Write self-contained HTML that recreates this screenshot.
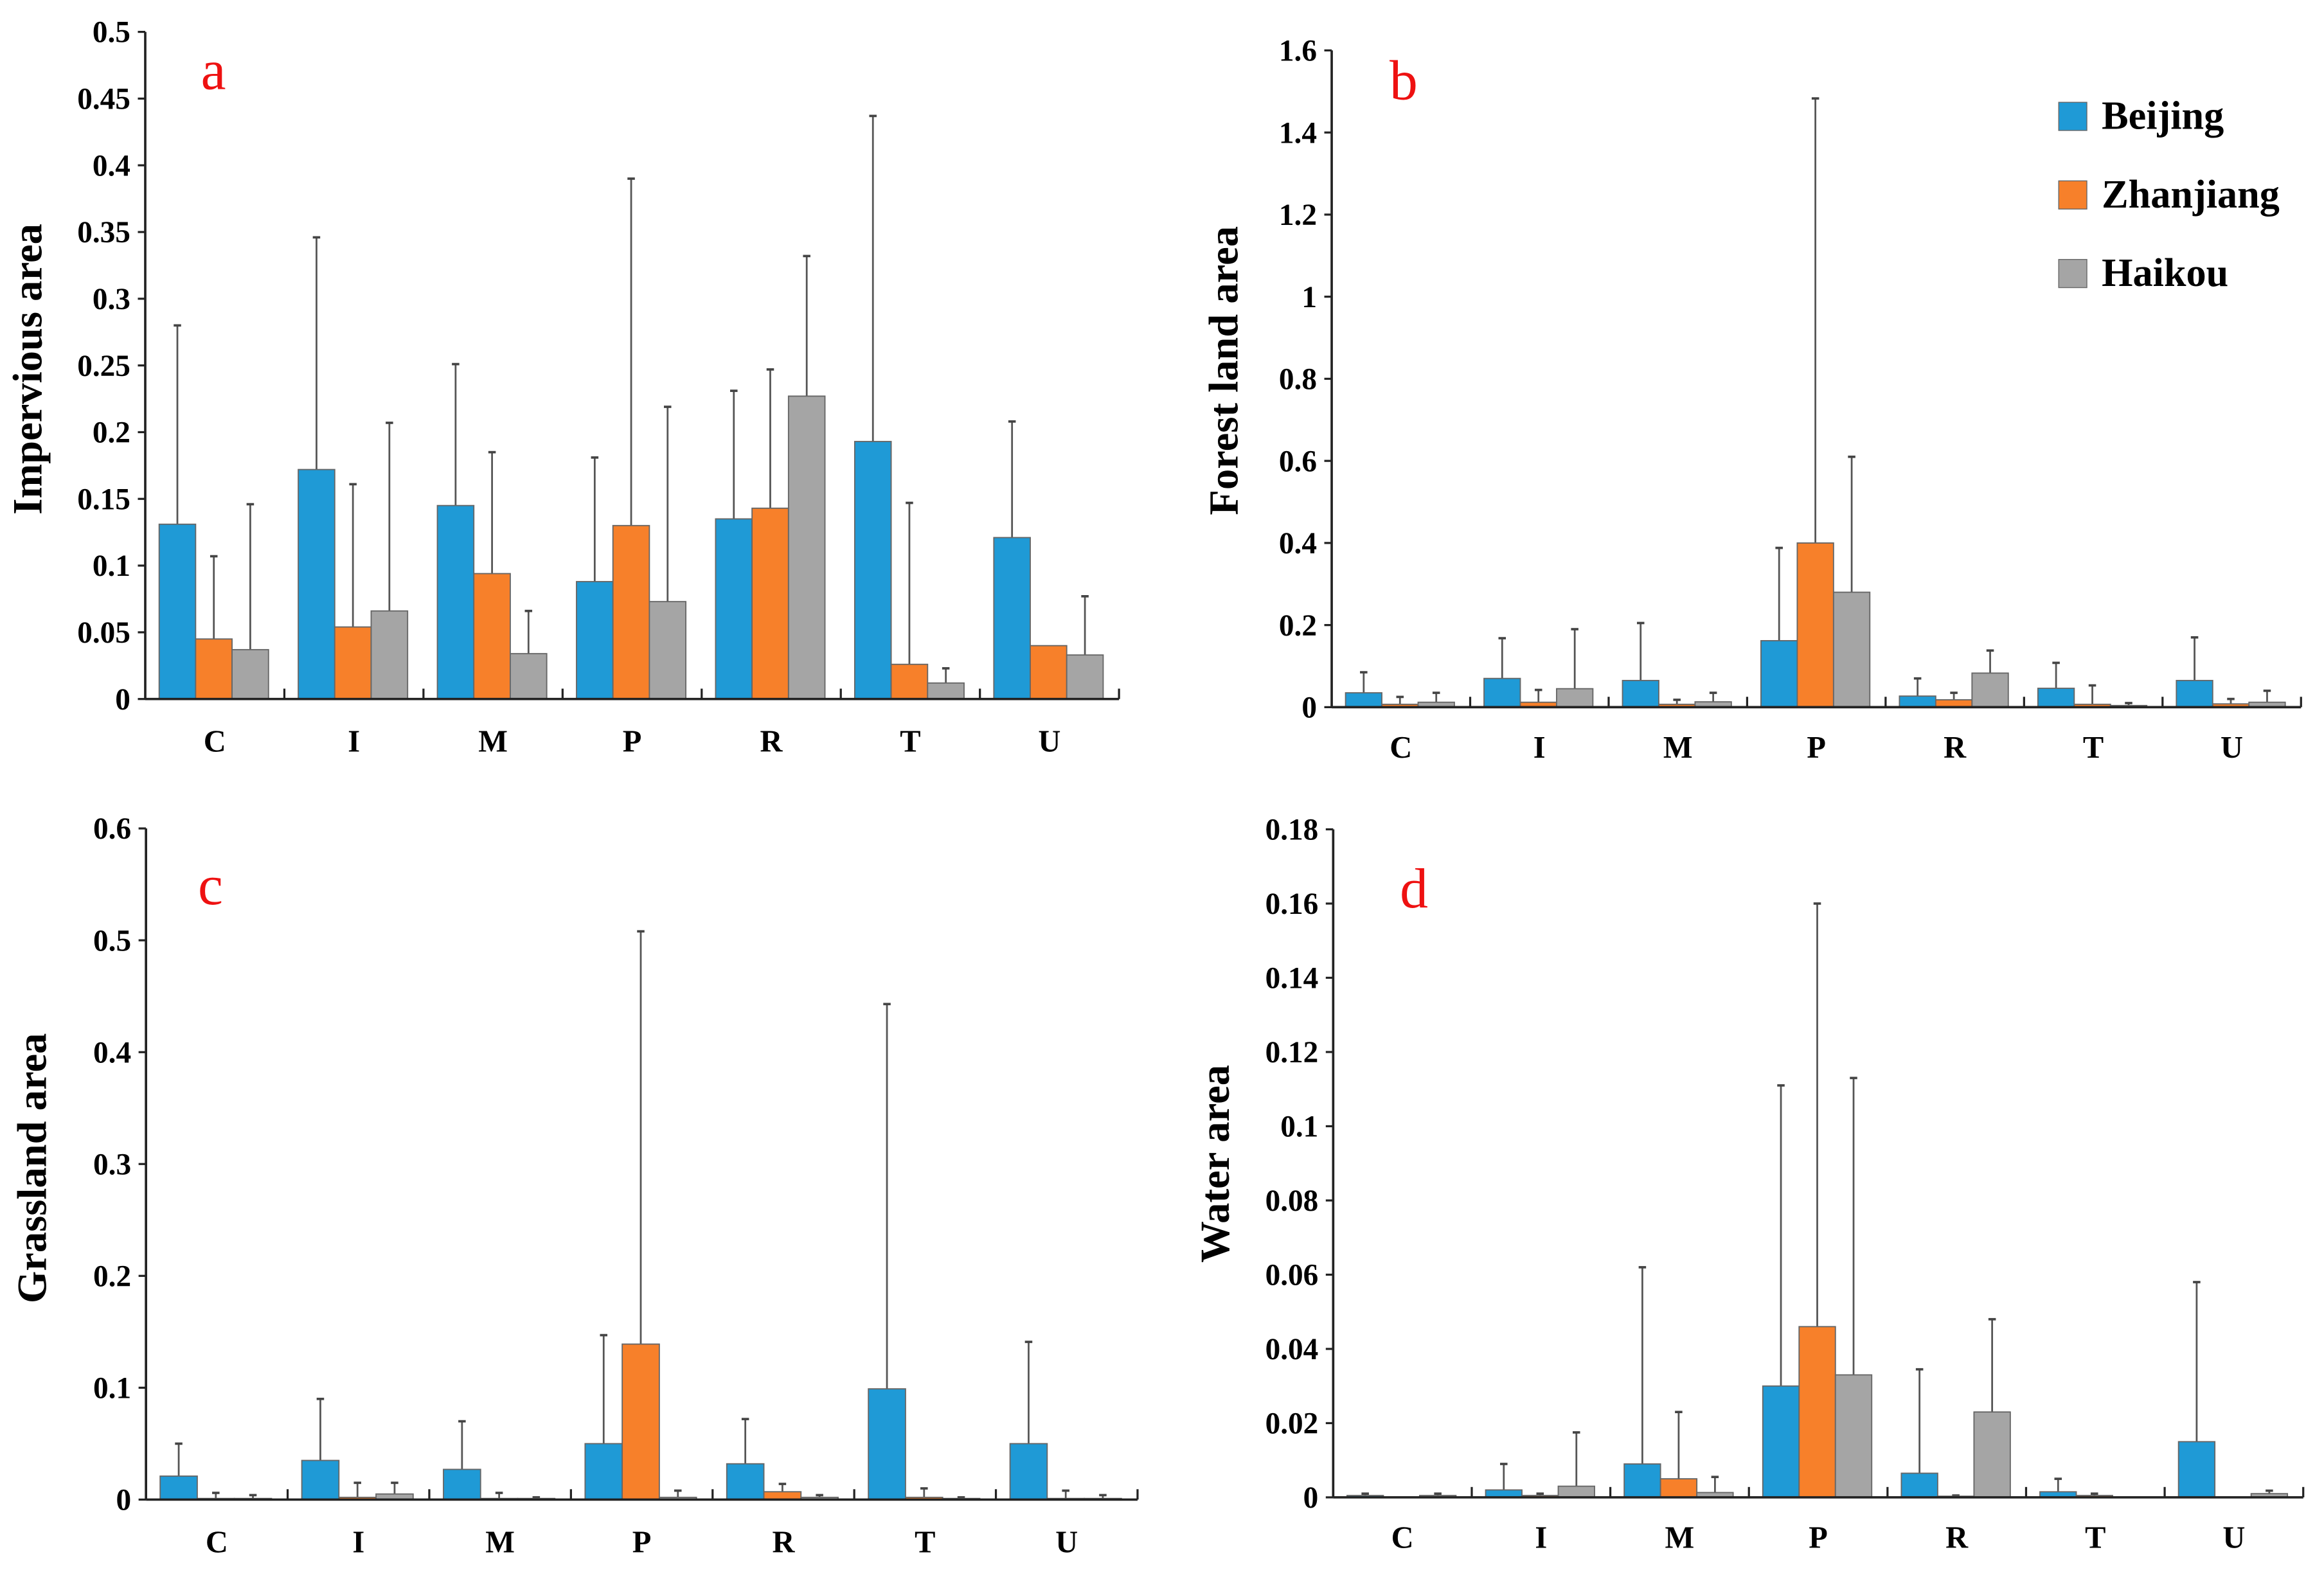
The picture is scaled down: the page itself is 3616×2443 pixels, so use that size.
<!DOCTYPE html>
<html><head><meta charset="utf-8"><style>
html,body{margin:0;padding:0;background:#fff;}
svg{display:block;}
text{font-family:"Liberation Serif",serif;}
</style></head><body>
<svg id="fig" width="3616" height="2443" viewBox="0 0 1568 1059" preserveAspectRatio="none" xmlns="http://www.w3.org/2000/svg">
<rect width="1568" height="1059" fill="#fff"/>
<g>
  <rect x="1389" y="69" width="19" height="19" fill="#1f9ad6" stroke="#666" stroke-width="0.6"/>
  <text x="1418" y="87" font-size="27" font-weight="bold">Beijing</text>
  <rect x="1389" y="122" width="19" height="19" fill="#f7802a" stroke="#666" stroke-width="0.6"/>
  <text x="1418" y="140" font-size="27" font-weight="bold">Zhanjiang</text>
  <rect x="1389" y="175" width="19" height="19" fill="#a5a5a5" stroke="#666" stroke-width="0.6"/>
  <text x="1418" y="193" font-size="27" font-weight="bold">Haikou</text>
</g>
</svg>
<script>
const categories = ["C","I","M","P","R","T","U"];
const seriesNames = ["Beijing","Zhanjiang","Haikou"];

// Panel a: Impervious area
const impBeijing = [0.131,0.172,0.145,0.088,0.135,0.193,0.121];
const impZhanjiang = [0.045,0.054,0.094,0.130,0.143,0.026,0.040];
const impHaikou = [0.037,0.066,0.034,0.073,0.227,0.012,0.033];
const impErrBeijing = [0.280,0.346,0.251,0.181,0.231,0.437,0.208];
const impErrZhanjiang = [0.107,0.161,0.185,0.390,0.247,0.147,0.040];
const impErrHaikou = [0.146,0.207,0.066,0.219,0.332,0.023,0.077];
const impTicks = ["0","0.05","0.1","0.15","0.2","0.25","0.3","0.35","0.4","0.45","0.5"];

// Panel b: Forest land area
const forBeijing = [0.035,0.070,0.065,0.162,0.027,0.046,0.065];
const forZhanjiang = [0.007,0.012,0.007,0.400,0.018,0.007,0.008];
const forHaikou = [0.012,0.045,0.013,0.280,0.083,0.004,0.012];
const forErrBeijing = [0.085,0.168,0.205,0.388,0.070,0.108,0.170];
const forErrZhanjiang = [0.025,0.042,0.018,1.483,0.035,0.053,0.020];
const forErrHaikou = [0.035,0.190,0.035,0.610,0.138,0.010,0.040];
const forTicks = ["0","0.2","0.4","0.6","0.8","1","1.2","1.4","1.6"];

// Panel c: Grassland area
const grBeijing = [0.021,0.035,0.027,0.050,0.032,0.099,0.050];
const grZhanjiang = [0.001,0.002,0.001,0.139,0.007,0.002,0.001];
const grHaikou = [0.001,0.005,0.001,0.002,0.002,0.001,0.001];
const grErrBeijing = [0.050,0.090,0.070,0.147,0.072,0.443,0.141];
const grErrZhanjiang = [0.006,0.015,0.006,0.508,0.014,0.010,0.008];
const grErrHaikou = [0.004,0.015,0.002,0.008,0.004,0.002,0.004];
const grTicks = ["0","0.1","0.2","0.3","0.4","0.5","0.6"];

// Panel d: Water area
const waBeijing = [0.0005,0.002,0.009,0.030,0.0065,0.0015,0.015];
const waZhanjiang = [0,0.0005,0.005,0.046,0.0003,0.0005,0];
const waHaikou = [0.0005,0.003,0.0013,0.033,0.023,0,0.001];
const waErrBeijing = [0.001,0.009,0.062,0.111,0.0345,0.005,0.058];
const waErrZhanjiang = [0,0.001,0.023,0.160,0.0005,0.001,0];
const waErrHaikou = [0.001,0.0175,0.0055,0.113,0.048,0,0.0018];
const waTicks = ["0","0.02","0.04","0.06","0.08","0.1","0.12","0.14","0.16","0.18"];

const NS = "http://www.w3.org/2000/svg";
const svg = document.getElementById("fig");
const colors = ["#1f9ad6","#f7802a","#a5a5a5"];

function mk(tag, attrs, parent) {
  const e = document.createElementNS(NS, tag);
  for (const k in attrs) e.setAttribute(k, attrs[k]);
  parent.appendChild(e);
  return e;
}

function drawPanel(p) {
  const g = mk("g", {}, svg);
  
  
  const yMax = parseFloat(p.ticks[p.ticks.length - 1]);
  const yScale = v => p.y0 - (v / yMax) * (p.y0 - p.yTop);
  const gw = (p.xEnd - p.x0) / categories.length;
  const xBand = i => p.x0 + i * gw;
  const ya = mk("line", {x1:p.x0, y1:p.yTop, x2:p.x0, y2:p.y0, stroke:"#222", "stroke-width":1.6}, g);
  
  
  p.ticks.forEach(t => {
    const v = parseFloat(t), y = yScale(v);
    const tk = mk("line", {x1:p.x0-5, y1:y, x2:p.x0, y2:y, stroke:"#222", "stroke-width":1.4}, g);
    
    
    const tl = mk("text", {x:p.x0-10, y:y+7, "text-anchor":"end", "font-size":20.5, "font-weight":"bold"}, g);
    
    
    tl.textContent = t;
  });
  const yt = mk("text", {x:0, y:0, "text-anchor":"middle", "font-size":28, "font-weight":"bold",
    transform:`translate(${p.titleX},${p.titleY}) rotate(-90)`}, g);
  
  
  yt.textContent = p.title;
  const pl = mk("text", {x:p.letterX, y:p.letterY, "text-anchor":"middle", "font-size":38, fill:"#ee1111"}, g);
  
  
  pl.textContent = p.letter;
  const bw = gw * 0.262, off = gw * 0.1;
  categories.forEach((c, i) => {
    p.vals.forEach((arr, s) => {
      const v = arr[i], e = p.errs[s][i];
      const x = xBand(i) + off + s * bw;
      const cx = x + bw / 2;
      if (e > v) {
        const el = mk("line", {x1:cx, y1:yScale(e), x2:cx, y2:yScale(v), stroke:"#555", "stroke-width":1.2}, g);
        
        
        const cap = mk("line", {x1:cx-2.5, y1:yScale(e), x2:cx+2.5, y2:yScale(e), stroke:"#444", "stroke-width":1.6}, g);
        
        
      }
      if (v > 0) {
        const r = mk("rect", {x:x, y:yScale(v), width:bw, height:p.y0 - yScale(v), fill:colors[s], stroke:"#666", "stroke-width":0.8}, g);
        
        
      }
    });
    const cl = mk("text", {x:xBand(i) + gw / 2, y:p.catY, "text-anchor":"middle", "font-size":21, "font-weight":"bold"}, g);
    
    
    cl.textContent = c;
    const dv = mk("line", {x1:xBand(i+1), y1:p.y0-7, x2:xBand(i+1), y2:p.y0, stroke:"#222", "stroke-width":1.4}, g);
    
    
  });
  const xa = mk("line", {x1:p.x0, y1:p.y0, x2:p.xEnd, y2:p.y0, stroke:"#222", "stroke-width":1.6}, g);
  
  
}

drawPanel({name:"panel-a-impervious", x0:98, xEnd:755, yTop:21.5, y0:471.5, ticks:impTicks,
  vals:[impBeijing,impZhanjiang,impHaikou], errs:[impErrBeijing,impErrZhanjiang,impErrHaikou],
  title:"Impervious area", titleX:28, titleY:249, letter:"a", letterX:144, letterY:60, catY:507});
drawPanel({name:"panel-b-forest", x0:898.5, xEnd:1552.5, yTop:34, y0:477, ticks:forTicks,
  vals:[forBeijing,forZhanjiang,forHaikou], errs:[forErrBeijing,forErrZhanjiang,forErrHaikou],
  title:"Forest land area", titleX:835, titleY:250, letter:"b", letterX:947, letterY:67, catY:511});
drawPanel({name:"panel-c-grassland", x0:98.5, xEnd:767.5, yTop:558.8, y0:1011.5, ticks:grTicks,
  vals:[grBeijing,grZhanjiang,grHaikou], errs:[grErrBeijing,grErrZhanjiang,grErrHaikou],
  title:"Grassland area", titleX:31, titleY:788, letter:"c", letterX:142, letterY:610, catY:1047});
drawPanel({name:"panel-d-water", x0:899.5, xEnd:1554, yTop:559.4, y0:1010, ticks:waTicks,
  vals:[waBeijing,waZhanjiang,waHaikou], errs:[waErrBeijing,waErrZhanjiang,waErrHaikou],
  title:"Water area", titleX:829, titleY:785, letter:"d", letterX:954, letterY:612, catY:1044});
</script>
</body></html>
